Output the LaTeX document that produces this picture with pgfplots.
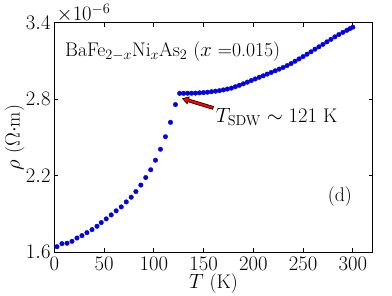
\documentclass[border=0pt]{standalone}
\usepackage{pgfplots}
\pgfplotsset{compat=1.18}
\begin{document}
\fontsize{19.8}{23}\selectfont
\begin{tikzpicture}[font=\fontsize{19.8}{23}\selectfont]
\begin{axis}[
  scale only axis,
  width=318.4bp, height=229.6bp,
  xmin=0, xmax=320, ymin=1.6, ymax=3.4,
  xtick={0,50,...,300},
  ytick={1.6,2.2,2.8,3.4},
  tick align=inside,
  major tick length=4bp,
  axis line style={line width=0.9bp},
  every tick/.style={black, line width=0.8bp},
  x tick label style={inner sep=0pt, anchor=north, yshift=-4.2bp},
  y tick label style={inner sep=0pt, anchor=east, xshift=-3.6bp, /pgf/number format/fixed, /pgf/number format/precision=1, /pgf/number format/fixed zerofill},
  scaled y ticks=false,
  xlabel={$T$ (K)},
  ylabel={$\rho$ ($\Omega{\cdot}$m)},
  xlabel style={at={(axis description cs:0.5,-0.093)}, anchor=north, inner sep=0pt},
  ylabel style={at={(axis description cs:-0.156,0.5)}, anchor=north, inner sep=0pt},
  clip=false,
]
\addplot[only marks, mark=*, mark size=2.3bp, mark options={fill=blue!95!black, draw=blue!75!black, line width=0.3bp}] coordinates {
(2.7,1.644)(7.7,1.668)(12.8,1.671)(17.8,1.686)(22.8,1.712)(27.8,1.731)(32.8,1.754)(37.9,1.778)(42.9,1.804)(47.2,1.833)(52.2,1.862)(57.2,1.893)(62.2,1.925)(67.3,1.956)(72.3,1.995)(77.3,2.032)(82.0,2.076)(87.0,2.127)(91.9,2.186)(96.9,2.247)(101.7,2.322)(106.7,2.408)(111.7,2.506)(116.8,2.619)(121.8,2.758)
(126,2.846)(130,2.846)(134,2.847)(138,2.847)(142,2.848)(146,2.850)(150,2.852)(154,2.855)(158,2.859)(162,2.863)(166,2.867)(170,2.873)(174,2.880)(178,2.887)(182,2.898)(186,2.909)(190,2.921)(194,2.934)(198,2.947)(202,2.959)(206,2.972)(210,2.984)(214,2.997)(218,3.010)(222,3.023)(226,3.036)(230,3.049)(234,3.064)(238,3.080)(242,3.098)(246,3.116)(250,3.134)(254,3.153)(258,3.172)(262,3.192)(266,3.211)(270,3.230)(274,3.250)(278,3.269)(282,3.289)(286,3.307)(290,3.324)(294,3.340)(297,3.353)(300,3.365)
};
\node[anchor=base west, inner sep=0pt] at (axis cs:10.7,3.133) {BaFe$_{2-x}$Ni$_x$As$_2$ ($x$ =0.015)};
\node[anchor=center, inner sep=0pt] at (axis cs:287,2.035) {(d)};
\node[anchor=base west, inner sep=0pt] at (axis cs:162.3,2.619) {$T_{\mathrm{SDW}}\sim 121$ K};
\coordinate (atail) at (axis cs:159.6,2.732);
\end{axis}
\begin{scope}[shift={(atail)}, rotate=163.1]
\filldraw[fill=red, draw=black, line width=0.6bp] (0,-1.5bp) -- (26bp,-1.5bp) -- (26bp,-3.6bp) -- (32bp,0) -- (26bp,3.6bp) -- (26bp,1.5bp) -- (0,1.5bp) -- cycle;
\end{scope}
\node[anchor=base west, inner sep=0pt] at ([xshift=2.2bp,yshift=1.7bp]current axis.north west) {$\times10^{-6}$};
\pgfresetboundingbox
\path[use as bounding box] (current axis.south west) ++(-54.3bp,-43.7bp) rectangle ++(392bp,296bp);
\end{tikzpicture}
\end{document}
